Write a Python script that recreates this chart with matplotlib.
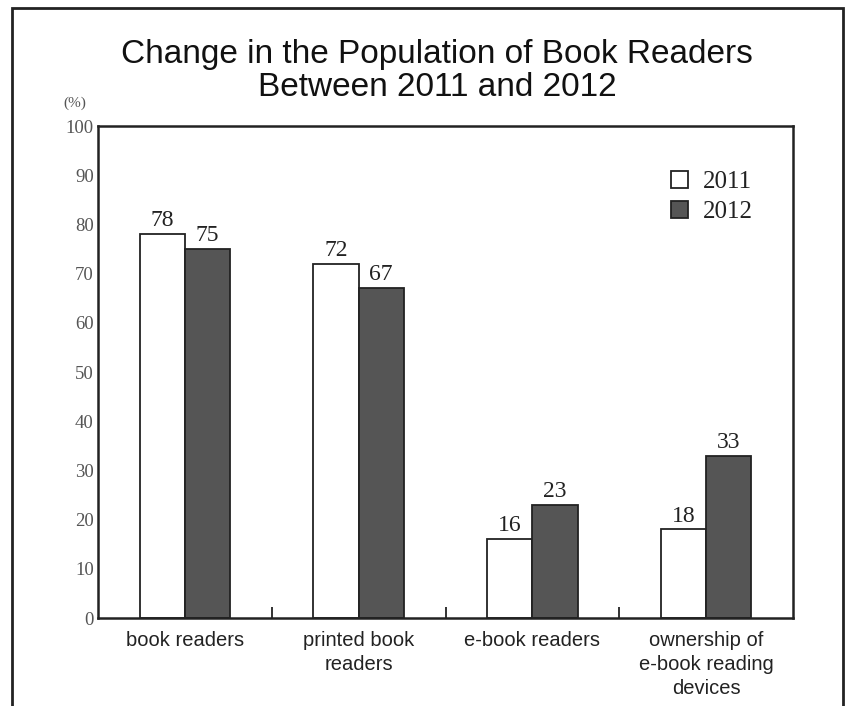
import numpy as np
from matplotlib import pyplot as plt
from matplotlib.patches import Rectangle

categories = ['book readers', 'printed book\nreaders', 'e-book readers',
              'ownership of\ne-book reading\ndevices']
values_2011 = [78, 72, 16, 18]
values_2012 = [75, 67, 23, 33]
yticks = list(range(0, 101, 10))

serif = ['Liberation Serif', 'DejaVu Serif']
sans = ['Liberation Sans', 'DejaVu Sans']

fig = plt.figure(figsize=(8.46, 7.06), dpi=100)
ax = fig.add_axes([0.1158, 0.1246, 0.8216, 0.6969])

# outer frame (open at the bottom)
fig.patches.append(Rectangle((12 / 846, -0.1), (843 - 12) / 846, 1.1 - 8 / 706,
                             transform=fig.transFigure, fill=False,
                             edgecolor='#222222', linewidth=2))

x = np.arange(len(categories))
w = 0.26
b1 = ax.bar(x - w / 2, values_2011, w, color='white', edgecolor='#222222',
            linewidth=1.3, label='2011')
b2 = ax.bar(x + w / 2, values_2012, w, color='#555555', edgecolor='#222222',
            linewidth=1.3, label='2012')

for bars, vals in ((b1, values_2011), (b2, values_2012)):
    for r, v in zip(bars, vals):
        ax.text(r.get_x() + r.get_width() / 2, v + 0.6, str(v),
                ha='center', va='bottom', fontsize=17, family=serif,
                color='#222222')

ax.set_xlim(-0.5, 3.5)
ax.set_ylim(0, 100)
ax.set_yticks(yticks)
ax.set_yticklabels([str(t) for t in yticks], family=serif, fontsize=13.5,
                   color='#555555')
ax.tick_params(axis='y', length=0, pad=3)
ax.set_xticks(x)
ax.set_xticklabels(categories, family=sans, fontsize=14.5, color='#222222',
                   linespacing=1.35)
ax.tick_params(axis='x', length=0, pad=9)
ax.set_xticks([0.5, 1.5, 2.5], minor=True)
ax.tick_params(axis='x', which='minor', direction='in', length=8,
               width=1.3, color='#222222')
for s in ax.spines.values():
    s.set_linewidth(1.8)
    s.set_color('#222222')

ax.text(-0.034, 1.033, '(%)', transform=ax.transAxes, family=serif,
        fontsize=11, color='#555555', ha='center', va='bottom')

leg = ax.legend(loc='upper right', bbox_to_anchor=(0.975, 0.955),
                frameon=False, prop={'family': serif, 'size': 18},
                handlelength=0.7, handleheight=0.7, handletextpad=0.6,
                labelspacing=0.3)
for t in leg.get_texts():
    t.set_color('#222222')

fig.text(0.517, 0.945, 'Change in the Population of Book Readers\n'
         'Between 2011 and 2012', ha='center', va='top', family=sans,
         fontsize=24, color='#111111', linespacing=1.1)

fig.savefig('out.png', dpi=100, facecolor='white')
